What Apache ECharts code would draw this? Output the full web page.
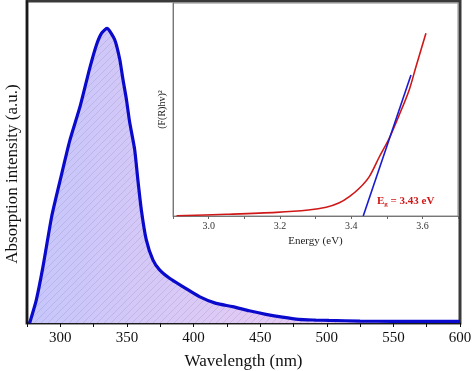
<!DOCTYPE html>
<html><head><meta charset="utf-8">
<script src="https://cdn.jsdelivr.net/npm/echarts@6/dist/echarts.min.js"></script>
<style>html,body{margin:0;padding:0;background:#fff}#c{width:474px;height:371px}</style>
</head><body><div id="c"></div>
<script>
// Main spectrum: wavelength (nm) vs absorption (a.u.)
const wavelength = [277,282,287,293.5,300,307,315,322,327,331,335,340.8,344.6,347,349.6,352,355.8,358.2,360.8,364.5,369.5,374.5,382,392,404.4,416.9,429.3,441.8,454.3,466.7,479,491.7,501.6,525,550,575,600];
const absorption = [0,0.072,0.175,0.33,0.445,0.565,0.675,0.79,0.862,0.9,0.915,0.88,0.819,0.757,0.695,0.625,0.539,0.445,0.352,0.259,0.196,0.165,0.139,0.113,0.082,0.061,0.051,0.038,0.027,0.018,0.011,0.009,0.008,0.006,0.005,0.005,0.005];
// Inset: Tauc plot
const energy = [2.91,3.05,3.19,3.28,3.33,3.367,3.395,3.423,3.451,3.479,3.507,3.535,3.563,3.582,3.61];
const tauc = [0.1,0.8,1.7,2.8,4.1,6.2,9.1,13.0,18.5,27.7,36.5,47.4,59.2,70.1,85.8];
const fitEnergy = [3.434,3.568];
const fitTauc = [0,66.2];
const xTicks = [300,350,400,450,500,550,600];
const insetTicks = [3.0,3.2,3.4,3.6];

const chart = echarts.init(document.getElementById('c'), null, {renderer:'canvas'});
const pc = document.createElement('canvas');
pc.width = 7; pc.height = 7;
const g = pc.getContext('2d');
g.strokeStyle = 'rgba(130,120,175,0.22)';
g.lineWidth = 1;
g.beginPath(); g.moveTo(0,7); g.lineTo(7,0); g.moveTo(-1,1); g.lineTo(1,-1); g.moveTo(6,8); g.lineTo(8,6); g.stroke();

const font = 'Liberation Serif';
const mainPts = wavelength.map((w,i)=>[w,absorption[i]]);
chart.setOption({
  animation:false,
  grid:[
    {left:27,right:14,top:1,bottom:48,show:true,borderColor:'#3a3a3a',borderWidth:3,backgroundColor:'#fff',outerBoundsMode:'none',containLabel:false},
    {left:173,right:16,top:3,bottom:155,show:true,borderColor:'#888',borderWidth:1,backgroundColor:'#fff',z:5,outerBoundsMode:'none',containLabel:false}
  ],
  xAxis:[
    {gridIndex:0,type:'value',min:275,max:600,interval:25,
     axisLine:{lineStyle:{color:'#111',width:1.5}},
     axisTick:{inside:false,length:4,lineStyle:{color:'#111'}},
     splitLine:{show:false},
     axisLabel:{fontFamily:font,fontSize:15,color:'#111',margin:8,
       formatter:v=>xTicks.includes(v)?String(v):''},
     name:'Wavelength (nm)',nameLocation:'middle',nameGap:30,
     nameTextStyle:{fontFamily:font,fontSize:17,color:'#111'}},
    {gridIndex:1,type:'value',min:2.9,max:3.7,interval:0.1,
     axisLine:{lineStyle:{color:'#777',width:1}},
     axisTick:{length:3,lineStyle:{color:'#666'}},
     splitLine:{show:false},
     axisLabel:{fontFamily:font,fontSize:10,color:'#333',margin:5,
       formatter:v=>{const r=Math.round(v*10)/10;return insetTicks.some(t=>Math.abs(t-r)<1e-6)?r.toFixed(1):'';}},
     name:'Energy (eV)',nameLocation:'middle',nameGap:17,
     nameTextStyle:{fontFamily:font,fontSize:11,color:'#222'},z:6}
  ],
  yAxis:[
    {gridIndex:0,type:'value',min:0,max:1,
     axisLine:{show:true,lineStyle:{color:'#111',width:1.5}},
     axisTick:{show:false},axisLabel:{show:false},splitLine:{show:false},
     name:'Absorption intensity (a.u.)',nameLocation:'middle',nameGap:6,
     nameTextStyle:{fontFamily:font,fontSize:17,color:'#111',padding:[0,24,0,0]}},
    {gridIndex:1,type:'value',min:0,max:100,
     axisLine:{show:true,lineStyle:{color:'#777',width:1}},
     axisTick:{show:false},axisLabel:{show:false},splitLine:{show:false},
     name:'(F(R)hv)²',nameLocation:'middle',nameGap:6,
     nameTextStyle:{fontFamily:font,fontSize:10,color:'#222'},z:6}
  ],
  series:[
    {type:'line',xAxisIndex:0,yAxisIndex:0,data:mainPts,smooth:0.2,symbol:'none',
     lineStyle:{width:0},
     areaStyle:{opacity:1,color:new echarts.graphic.LinearGradient(0,0,1,0,[{offset:0,color:'#c6c6fb'},{offset:0.35,color:'#d9c9f6'},{offset:1,color:'#f6cdee'}])},z:2},
    {type:'line',xAxisIndex:0,yAxisIndex:0,data:mainPts,smooth:0.2,symbol:'none',
     lineStyle:{color:'#0a0acc',width:3.2},
     areaStyle:{opacity:1,color:{image:pc,repeat:'repeat'}},z:3},
    {type:'line',xAxisIndex:1,yAxisIndex:1,data:energy.map((e,i)=>[e,tauc[i]]),smooth:0.3,symbol:'none',
     lineStyle:{color:'#d01818',width:1.6},z:7},
    {type:'line',xAxisIndex:1,yAxisIndex:1,data:fitEnergy.map((e,i)=>[e,fitTauc[i]]),symbol:'none',
     lineStyle:{color:'#1a1ad0',width:1.6},z:8}
  ],
  graphic:[
    {type:'text',left:377,top:196,z:20,style:{
      rich:{b:{fontFamily:font,fontSize:11,fontWeight:'bold',fill:'#d01818'},s:{fontFamily:font,fontSize:7,fontWeight:'bold',fill:'#d01818',padding:[6,0,0,0]}},
      text:'{b|E}{s|g}{b| = 3.43 eV}'}}
  ]
});
</script></body></html>
